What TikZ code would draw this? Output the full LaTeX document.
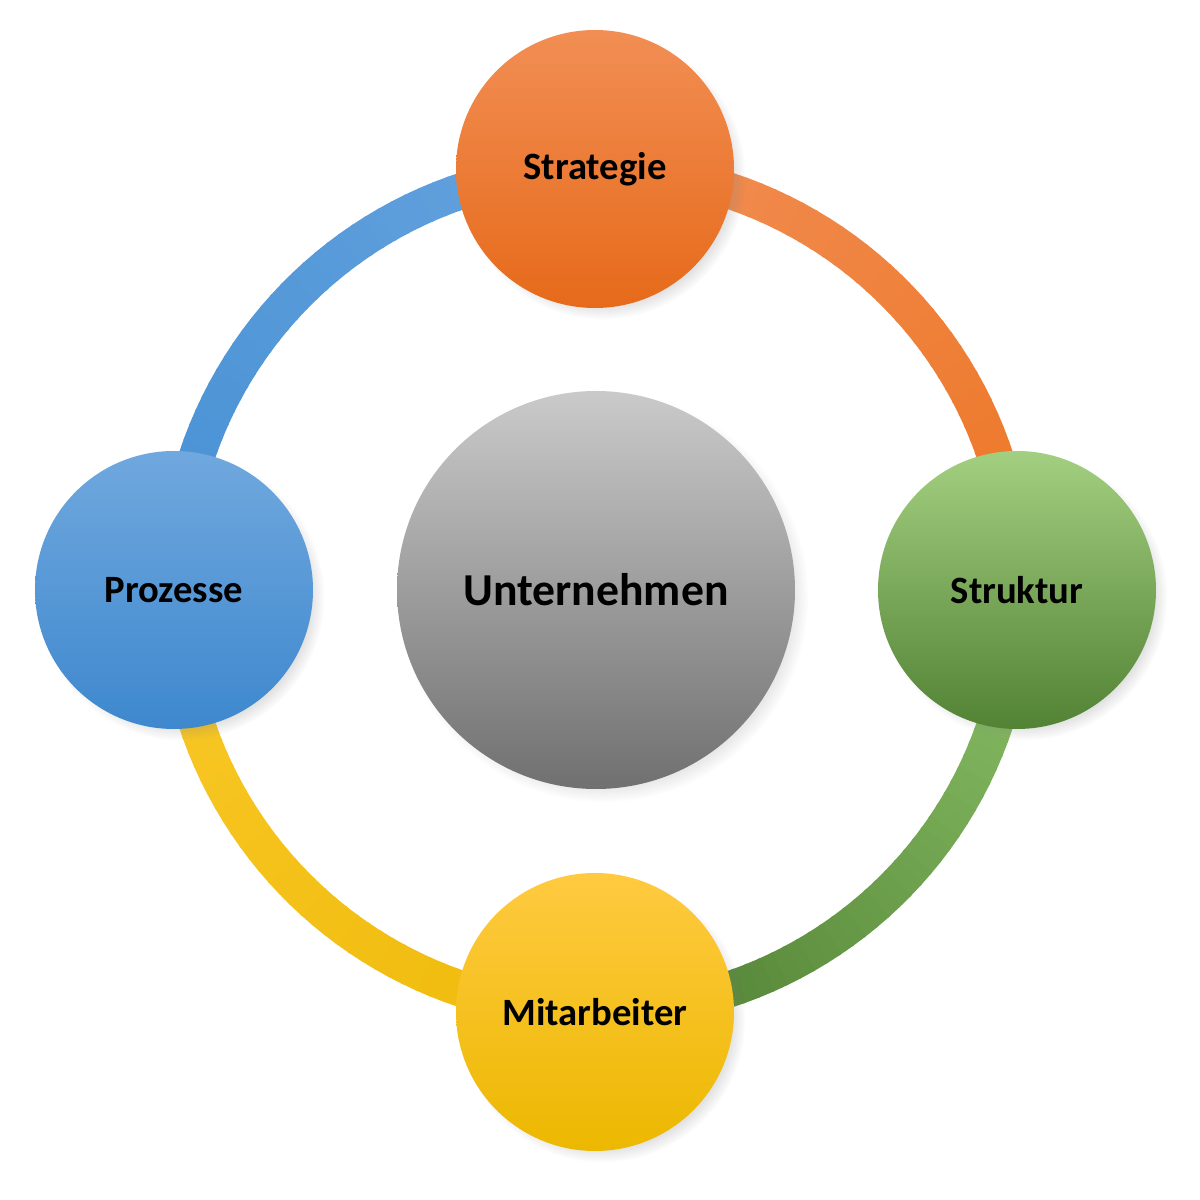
\documentclass[tikz,border=0pt]{standalone}
\usepackage{fontspec}
\setmainfont{Carlito}
\usetikzlibrary{shadows}
\pgfdeclarelayer{background}
\pgfsetlayers{background,main}

\definecolor{OraTop}{RGB}{242,142,84}
\definecolor{OraBot}{RGB}{230,106,26}
\definecolor{GreTop}{RGB}{163,207,128}
\definecolor{GreBot}{RGB}{82,130,52}
\definecolor{BluTop}{RGB}{112,168,222}
\definecolor{BluBot}{RGB}{62,136,206}
\definecolor{YelTop}{RGB}{255,202,64}
\definecolor{YelBot}{RGB}{236,184,0}
\definecolor{GryTop}{RGB}{202,202,202}
\definecolor{GryBot}{RGB}{112,112,112}
\definecolor{BluA}{RGB}{70,145,212}
\definecolor{BluB}{RGB}{102,162,222}
\definecolor{OraA}{RGB}{241,142,86}
\definecolor{OraB}{RGB}{237,118,36}
\definecolor{GreA}{RGB}{140,194,104}
\definecolor{GreB}{RGB}{76,124,48}
\definecolor{YelA}{RGB}{238,186,10}
\definecolor{YelB}{RGB}{250,200,40}

\begin{document}
\begin{tikzpicture}[
  Vertex/.style={circle,minimum size=2.78cm,inner sep=0pt,
    font=\bfseries\fontsize{11}{13}\selectfont,
    circular drop shadow={shadow xshift=2pt,shadow yshift=-2pt,opacity=0.35,shadow scale=1.03}},
  Core/.style={Vertex,minimum size=3.98cm,font=\bfseries\fontsize{13}{15}\selectfont},
  Ring/.style={line width=0.36cm}
]
\useasboundingbox (0,0) rectangle (12,12);
\node[Core,top color=GryTop,bottom color=GryBot] (U) at (5.96,6.1) {Unternehmen};
\node[Vertex,top color=OraTop,bottom color=OraBot] (S) at (5.95,10.31) {Strategie};
\node[Vertex,top color=GreTop,bottom color=GreBot] (K) at (10.17,6.1) {Struktur};
\node[Vertex,top color=YelTop,bottom color=YelBot] (M) at (5.95,1.88) {Mitarbeiter};
\node[Vertex,top color=BluTop,bottom color=BluBot] (P) at (1.74,6.1) {Prozesse};
% ring between the four circles
\begin{pgfonlayer}{background}
\foreach \s/\ca/\cb in {180/BluA/BluB,90/OraA/OraB,0/GreA/GreB,-90/YelA/YelB}{
  \foreach \i in {0,...,44}{
    \pgfmathsetmacro\p{100-100*\i/44}
    \draw[Ring,color=\ca!\p!\cb] (U.center) ++(\s-2*\i:4.21)
      arc[start angle=\s-2*\i,delta angle=-2.4,radius=4.21];
  }
}
\end{pgfonlayer}
\end{tikzpicture}
\end{document}
